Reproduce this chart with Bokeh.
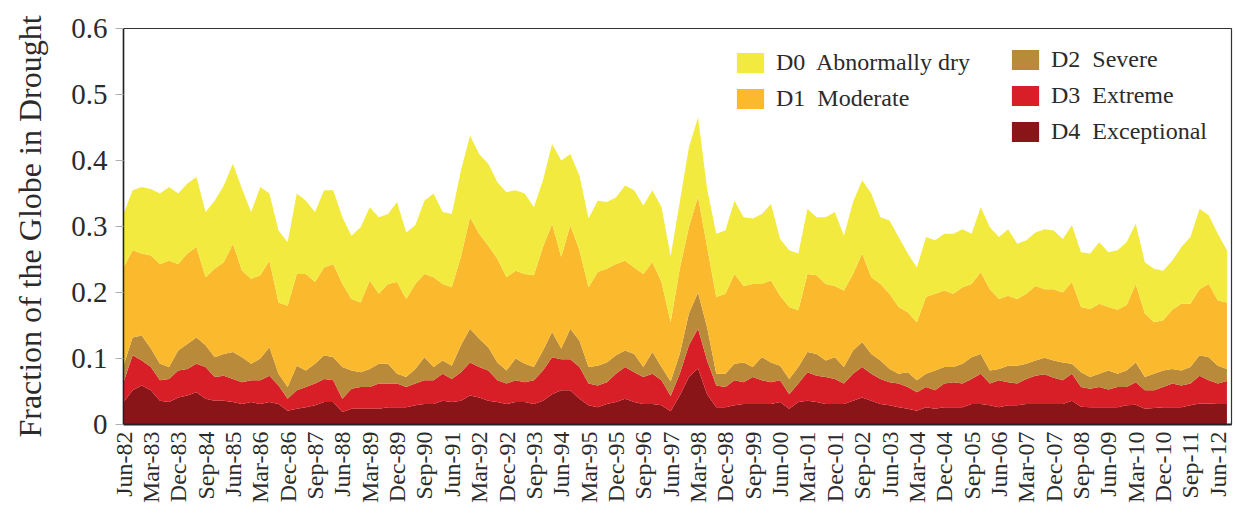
import math
from bokeh.plotting import figure
from bokeh.models import ColumnDataSource, FixedTicker, Legend, LegendItem, Range1d
from bokeh.embed import file_html
from bokeh.resources import INLINE

# Month index since Jun-1982, sampled every 3 months
months = list(range(0, 364, 3))

# Cumulative fractions of the globe (top edge of each stacked band)
d0_d4 = [
    .319, .355, .360, .357, .350, .360, .350, .365, .375, .322, .339, .362, .395, .357, .322, .360, .350, .294, .276, .350, .339, .322, .355, .355, .314,
    .286, .299, .329, .314, .319, .337, .291, .302, .339, .350, .322, .319, .385, .438, .410, .395, .367, .352, .355, .350, .329, .370, .425, .400,
    .410, .377, .312, .339, .337, .344, .362, .355, .332, .355, .329, .255, .337, .420, .465, .357, .289, .294, .339, .314, .312, .319, .334, .281,
    .264, .259, .327, .314, .314, .322, .286, .337, .370, .350, .314, .309, .284, .259, .238, .284, .279, .289, .289, .296, .289, .329, .299, .284,
    .296, .274, .279, .291, .296, .294, .281, .302, .261, .259, .276, .261, .264, .276, .304, .246, .236, .233, .248, .269, .284, .327, .317, .289, .264,
]
d1_d4 = [
    .238, .264, .259, .256, .243, .248, .243, .259, .269, .223, .236, .246, .274, .233, .221, .226, .248, .185, .180, .228, .228, .216, .238, .243, .213,
    .190, .185, .218, .198, .213, .216, .190, .213, .228, .223, .213, .208, .254, .314, .289, .271, .251, .223, .233, .228, .226, .269, .304, .254,
    .302, .264, .208, .231, .236, .243, .248, .238, .228, .246, .216, .155, .236, .299, .345, .269, .193, .198, .228, .210, .213, .213, .218, .195,
    .178, .173, .228, .226, .213, .210, .203, .228, .259, .223, .213, .198, .178, .170, .155, .193, .198, .203, .198, .208, .213, .231, .205, .190,
    .195, .190, .198, .210, .205, .205, .200, .216, .178, .175, .183, .178, .174, .181, .213, .168, .155, .158, .174, .183, .183, .205, .213, .188, .185,
]
d2_d4 = [
    .089, .132, .135, .115, .092, .087, .112, .122, .132, .120, .102, .107, .110, .102, .092, .100, .117, .077, .057, .089, .082, .092, .105, .102, .087,
    .082, .079, .084, .092, .092, .077, .072, .084, .102, .087, .097, .089, .120, .145, .130, .117, .094, .082, .100, .092, .087, .112, .140, .115,
    .145, .127, .087, .089, .094, .105, .112, .107, .087, .110, .087, .065, .107, .168, .200, .147, .077, .077, .092, .094, .087, .102, .094, .089,
    .069, .087, .110, .107, .097, .102, .087, .112, .125, .107, .097, .084, .077, .079, .067, .077, .082, .087, .087, .092, .102, .107, .082, .084,
    .089, .089, .092, .097, .101, .097, .094, .092, .079, .072, .077, .082, .077, .082, .094, .072, .077, .082, .084, .082, .087, .105, .102, .089, .084,
]
d3_d4 = [
    .064, .105, .097, .087, .067, .069, .082, .084, .092, .087, .072, .074, .069, .064, .067, .067, .074, .059, .039, .052, .057, .062, .069, .067, .039,
    .054, .057, .057, .062, .062, .062, .057, .062, .067, .067, .077, .069, .079, .094, .087, .082, .067, .062, .067, .064, .067, .082, .102, .099,
    .099, .087, .062, .059, .064, .077, .087, .079, .072, .077, .067, .043, .077, .120, .145, .097, .059, .057, .067, .064, .072, .067, .064, .067,
    .046, .062, .079, .074, .072, .069, .062, .077, .087, .077, .069, .064, .062, .057, .049, .057, .052, .062, .064, .062, .069, .077, .062, .067,
    .064, .062, .069, .074, .076, .071, .067, .077, .057, .054, .057, .053, .057, .057, .064, .052, .052, .057, .062, .059, .062, .074, .067, .062, .066,
]
d4 = [
    .034, .052, .059, .052, .036, .034, .041, .044, .049, .039, .036, .036, .034, .031, .034, .031, .034, .031, .021, .024, .026, .029, .034, .034, .019,
    .024, .024, .024, .024, .026, .026, .026, .029, .031, .031, .036, .034, .036, .044, .041, .036, .034, .031, .034, .034, .031, .036, .046, .052,
    .052, .039, .029, .026, .031, .034, .039, .034, .031, .031, .029, .020, .044, .072, .085, .046, .026, .026, .029, .031, .031, .031, .031, .034,
    .024, .034, .036, .034, .031, .031, .031, .036, .041, .036, .031, .029, .026, .024, .021, .026, .024, .026, .026, .026, .031, .031, .029, .026,
    .029, .029, .031, .031, .031, .031, .031, .036, .027, .026, .026, .026, .026, .029, .030, .024, .025, .026, .026, .026, .029, .032, .032, .031, .031,
]
zeros = [0.0] * len(months)

categories = ["D0  Abnormally dry", "D1  Moderate", "D2  Severe", "D3  Extreme", "D4  Exceptional"]
colors = ["#F2EA3E", "#FBB92E", "#B88A3A", "#D81F28", "#8A1519"]

x_ticks = list(range(0, 361, 9))
x_tick_labels = [
    "Jun-82", "Mar-83", "Dec-83", "Sep-84", "Jun-85", "Mar-86", "Dec-86", "Sep-87", "Jun-88", "Mar-89",
    "Dec-89", "Sep-90", "Jun-91", "Mar-92", "Dec-92", "Sep-93", "Jun-94", "Mar-95", "Dec-95", "Sep-96",
    "Jun-97", "Mar-98", "Dec-98", "Sep-99", "Jun-00", "Mar-01", "Dec-01", "Sep-02", "Jun-03", "Mar-04",
    "Dec-04", "Sep-05", "Jun-06", "Mar-07", "Dec-07", "Sep-08", "Jun-09", "Mar-10", "Dec-10", "Sep-11",
    "Jun-12",
]
y_ticks = [0, 0.1, 0.2, 0.3, 0.4, 0.5, 0.6]
y_tick_labels = ["0", "0.1", "0.2", "0.3", "0.4", "0.5", "0.6"]

src = ColumnDataSource(dict(m=months, z=zeros, t0=d0_d4, t1=d1_d4, t2=d2_d4, t3=d3_d4, t4=d4))

FONT = "'Liberation Serif', serif"
TXT = "#2b2b2b"

p = figure(width=1235, height=514, x_range=Range1d(0, 364.5), y_range=Range1d(0, 0.6),
           output_backend="svg", toolbar_location=None,
           min_border_left=123, min_border_right=4, min_border_top=28, min_border_bottom=90)
p.background_fill_color = "white"
p.border_fill_color = "white"
p.xgrid.visible = False
p.ygrid.visible = False
p.outline_line_color = "#333333"
p.outline_line_width = 1.2

r4 = p.varea(x="m", y1="z", y2="t4", source=src, fill_color=colors[4])
r3 = p.varea(x="m", y1="t4", y2="t3", source=src, fill_color=colors[3])
r2 = p.varea(x="m", y1="t3", y2="t2", source=src, fill_color=colors[2])
r1 = p.varea(x="m", y1="t2", y2="t1", source=src, fill_color=colors[1])
r0 = p.varea(x="m", y1="t1", y2="t0", source=src, fill_color=colors[0])

# Axes
xa = p.xaxis[0]
xa.ticker = FixedTicker(ticks=x_ticks)
xa.major_label_overrides = {t: l for t, l in zip(x_ticks, x_tick_labels)}
xa.major_label_orientation = math.pi / 2
xa.major_label_text_font = FONT
xa.major_label_text_font_size = "24px"
xa.major_label_text_color = TXT
xa.major_tick_out = 0
xa.major_tick_in = 0
xa.minor_tick_out = 0
xa.minor_tick_in = 0
xa.major_label_standoff = 7
xa.axis_line_color = "#222222"
xa.axis_line_width = 2

ya = p.yaxis[0]
ya.ticker = FixedTicker(ticks=y_ticks)
ya.major_label_overrides = {t: l for t, l in zip(y_ticks, y_tick_labels)}
ya.major_label_text_font = FONT
ya.major_label_text_font_size = "29px"
ya.major_label_text_color = TXT
ya.major_tick_out = 8
ya.major_tick_in = 0
ya.major_tick_line_color = "#b0b0b0"
ya.minor_tick_out = 0
ya.minor_tick_in = 0
ya.major_label_standoff = 8
ya.axis_line_color = "#222222"
ya.axis_line_width = 1.5
ya.axis_label = "Fraction of the Globe in Drought"
ya.axis_label_text_font = FONT
ya.axis_label_text_font_size = "32px"
ya.axis_label_text_font_style = "normal"
ya.axis_label_text_color = TXT
ya.axis_label_standoff = 20

def make_legend(items, loc):
    leg = Legend(items=items, location=loc, orientation="vertical",
                 glyph_width=34, glyph_height=25, label_height=25, label_width=10,
                 spacing=9, padding=0, margin=0, label_standoff=9,
                 label_text_font=FONT, label_text_font_size="24px", label_text_color=TXT,
                 border_line_color=None, background_fill_alpha=0)
    return leg

leg1 = make_legend([LegendItem(label=categories[0], renderers=[r0]),
                    LegendItem(label=categories[1], renderers=[r1])], (610, 312))
leg2 = make_legend([LegendItem(label=categories[2], renderers=[r2]),
                    LegendItem(label=categories[3], renderers=[r3]),
                    LegendItem(label=categories[4], renderers=[r4])], (885, 279))
p.add_layout(leg1)
p.add_layout(leg2)

open("out.html", "w").write(file_html(p, INLINE))
